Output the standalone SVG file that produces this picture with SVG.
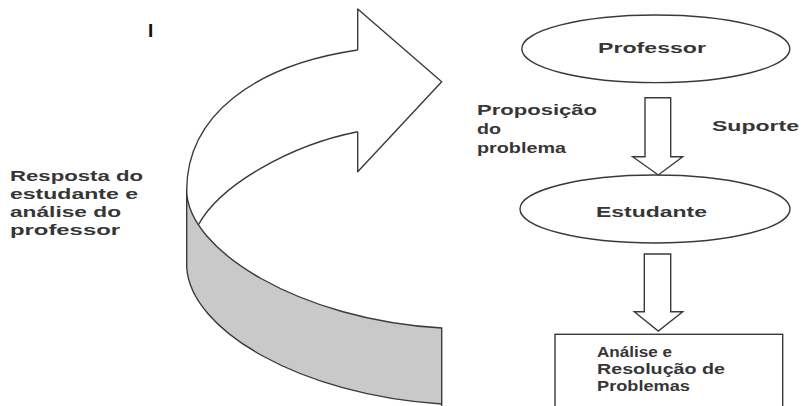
<svg xmlns="http://www.w3.org/2000/svg" width="804" height="406" viewBox="0 0 804 406">
<style>
.ln{fill:none;stroke:#3a3a3a;stroke-width:1.4;stroke-linejoin:round}
.sh{fill:#fff;stroke:#3a3a3a;stroke-width:1.4;stroke-linejoin:miter}
.t{font-family:"Liberation Sans",Arial,sans-serif;font-weight:bold;font-size:15px;fill:#363636}
.b{font-size:14.5px}
</style>
<rect width="804" height="406" fill="#fff"/>
<g id="title-mark"><text x="148" y="37" style="font-family:'Liberation Sans',sans-serif;font-weight:bold;font-size:19px;fill:#111">I</text></g>
<g id="curved-arrow">
<path d="M186.7,190 C186.7,250 300,320 441.7,328 L441.7,406 L441.7,404 C300,395 190,330 186.7,267 Z" fill="#c9c9c9" stroke="#3a3a3a" stroke-width="1.4"/>
<path class="ln" d="M357.7,50 C255,65 187,115 186.7,190"/>
<path class="ln" d="M357.7,131.7 C290,145 220,185 198.3,225"/>
<path class="ln" d="M357.7,50 L357.7,9 L441.7,81.7 L357.7,171.7 L357.7,131.7"/>
</g>
<g id="label-resposta">
<text class="t" x="10" y="181" textLength="133" lengthAdjust="spacingAndGlyphs">Resposta do</text>
<text class="t" x="10" y="199" textLength="128" lengthAdjust="spacingAndGlyphs">estudante e</text>
<text class="t" x="10" y="217" textLength="111" lengthAdjust="spacingAndGlyphs">análise do</text>
<text class="t" x="10" y="235" textLength="110" lengthAdjust="spacingAndGlyphs">professor</text>
</g>
<g id="label-proposicao">
<text class="t" x="477" y="115" textLength="120" lengthAdjust="spacingAndGlyphs">Proposição</text>
<text class="t" x="477" y="134" textLength="24" lengthAdjust="spacingAndGlyphs">do</text>
<text class="t" x="477" y="153" textLength="89" lengthAdjust="spacingAndGlyphs">problema</text>
</g>
<g id="label-suporte"><text class="t" x="712" y="131" textLength="87" lengthAdjust="spacingAndGlyphs">Suporte</text></g>
<g id="professor">
<ellipse class="sh" cx="655.8" cy="48.8" rx="134" ry="33.8"/>
<text class="t" x="598" y="53" textLength="108" lengthAdjust="spacingAndGlyphs">Professor</text>
</g>
<g id="estudante">
<ellipse class="sh" cx="655" cy="209" rx="135" ry="34"/>
<text class="t" x="596" y="217" textLength="111" lengthAdjust="spacingAndGlyphs">Estudante</text>
</g>
<g id="analise">
<rect class="sh" x="555" y="334.3" width="227.7" height="80"/>
<text class="t b" x="597" y="357" textLength="75" lengthAdjust="spacingAndGlyphs">Análise e</text>
<text class="t b" x="597" y="374" textLength="128" lengthAdjust="spacingAndGlyphs">Resolução de</text>
<text class="t b" x="597" y="391" textLength="93" lengthAdjust="spacingAndGlyphs">Problemas</text>
</g>
<g id="connectors">
<path class="sh" d="M645,97.7 L670.7,97.7 L670.7,156.7 L682.7,156.7 L658.3,175 L632.7,156.7 L645,156.7 Z"/>
<path class="sh" d="M644.3,254 L670.7,254 L670.7,311.7 L682.7,311.7 L658.3,331 L634.3,311.7 L644.3,311.7 Z"/>
</g>
</svg>
